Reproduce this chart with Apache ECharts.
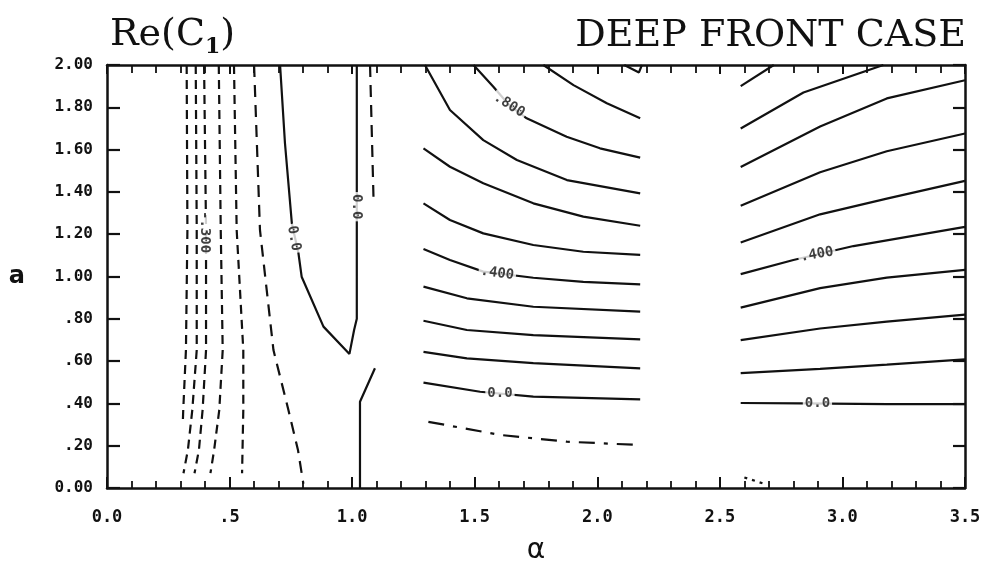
<!DOCTYPE html>
<html>
<head>
<meta charset="utf-8">
<script src="https://cdn.jsdelivr.net/npm/echarts/dist/echarts.min.js"></script>
<style>
  html, body { margin: 0; padding: 0; background: #fff; }
  #chart { width: 993px; height: 564px; }
</style>
</head>
<body>
<div id="chart"></div>
<script>
// Axis tick labels
const xTickLabels = ['0.0', '.5', '1.0', '1.5', '2.0', '2.5', '3.0', '3.5'];
const yTickLabels = ['0.00', '.20', '.40', '.60', '.80', '1.00', '1.20', '1.40', '1.60', '1.80', '2.00'];

// Negative contours at small alpha (dashed), left to right
const leftDashed = [
  [[0.325, 2.0], [0.328, 1.22], [0.322, 0.652], [0.311, 0.369], [0.309, 0.30]],
  [[0.362, 2.0], [0.366, 1.22], [0.366, 0.652], [0.348, 0.369], [0.330, 0.180], [0.312, 0.07]],
  [[0.396, 2.0], [0.404, 1.22], [0.404, 0.652], [0.390, 0.369], [0.375, 0.180], [0.357, 0.07]],
  [[0.456, 2.0], [0.464, 1.22], [0.472, 0.652], [0.458, 0.369], [0.437, 0.180], [0.422, 0.07]],
  [[0.518, 2.0], [0.529, 1.22], [0.556, 0.652], [0.556, 0.369], [0.551, 0.07]],
  [[0.600, 2.0], [0.624, 1.22], [0.679, 0.652], [0.740, 0.369], [0.779, 0.180], [0.801, 0.02]]
];

// Zero contour around alpha = 1
const zeroLoop = [[0.706, 2.0], [0.726, 1.63], [0.754, 1.252], [0.781, 1.11], [0.794, 0.999],
  [0.883, 0.763], [0.989, 0.634], [1.008, 0.747], [1.019, 0.80], [1.019, 2.0]];
const zeroLower = [[1.032, 0.0], [1.032, 0.408], [1.093, 0.566]];
const nearOneDashed = [[1.073, 2.0], [1.087, 1.377]];

// Contours for 1.3 < alpha < 2.2, levels 0.9 down to 0.0
const midSolid = [
  [[1.780, 2.0], [1.903, 1.905], [2.039, 1.819], [2.175, 1.748]],
  [[1.495, 2.0], [1.576, 1.897], [1.641, 1.810], [1.712, 1.748], [1.875, 1.661], [2.011, 1.606], [2.175, 1.562]],
  [[1.297, 2.0], [1.399, 1.787], [1.535, 1.645], [1.672, 1.551], [1.876, 1.456], [2.175, 1.393]],
  [[1.291, 1.606], [1.399, 1.519], [1.535, 1.441], [1.739, 1.346], [1.943, 1.283], [2.175, 1.240]],
  [[1.291, 1.346], [1.399, 1.267], [1.535, 1.204], [1.739, 1.149], [1.943, 1.117], [2.175, 1.102]],
  [[1.291, 1.130], [1.399, 1.078], [1.535, 1.023], [1.739, 0.994], [1.943, 0.975], [2.175, 0.963]],
  [[1.291, 0.952], [1.468, 0.897], [1.739, 0.857], [2.175, 0.834]],
  [[1.291, 0.791], [1.468, 0.747], [1.739, 0.723], [2.175, 0.703]],
  [[1.291, 0.644], [1.468, 0.613], [1.739, 0.590], [2.175, 0.566]],
  [[1.291, 0.498], [1.522, 0.455], [1.739, 0.432], [2.175, 0.419]],
  [[2.110, 2.0], [2.170, 1.965], [2.182, 2.0]]
];
const midDashed = [[1.311, 0.313], [1.603, 0.251], [1.876, 0.219], [2.175, 0.203]];

// Contours for alpha > 2.6, levels 0.9 down to 0.0
const rightSolid = [
  [[2.585, 1.900], [2.720, 2.0]],
  [[2.585, 1.700], [2.841, 1.870], [3.167, 2.0]],
  [[2.585, 1.518], [2.909, 1.709], [3.181, 1.842], [3.5, 1.928]],
  [[2.585, 1.335], [2.909, 1.493], [3.181, 1.592], [3.5, 1.676]],
  [[2.585, 1.161], [2.909, 1.294], [3.181, 1.368], [3.5, 1.452]],
  [[2.585, 1.011], [2.800, 1.078], [3.045, 1.144], [3.5, 1.235]],
  [[2.585, 0.853], [2.909, 0.945], [3.181, 0.995], [3.5, 1.031]],
  [[2.585, 0.699], [2.909, 0.754], [3.181, 0.787], [3.5, 0.820]],
  [[2.585, 0.543], [2.909, 0.563], [3.181, 0.583], [3.5, 0.608]],
  [[2.585, 0.402], [2.827, 0.400], [3.181, 0.397], [3.5, 0.397]]
];
const rightDashed = [[2.60, 0.05], [2.68, 0.02]];

// Contour labels: [alpha, a, text, rotation]
const contourLabels = [
  [0.400, 1.21, '-.300', -90],
  [0.762, 1.18, '0.0', -80],
  [1.019, 1.33, '0.0', -90],
  [1.641, 1.810, '.800', -32],
  [1.592, 1.015, '.400', -8],
  [1.603, 0.448, '0.0', 0],
  [2.896, 1.104, '.400', 10],
  [2.898, 0.398, '0.0', 0]
];

const INK = '#111';

function contour(points, dash) {
  return {
    type: 'line',
    data: points,
    showSymbol: false,
    symbol: 'none',
    silent: true,
    animation: false,
    clip: true,
    z: 3,
    lineStyle: { color: INK, width: 2.2, type: dash || 'solid', cap: 'butt' }
  };
}

const series = [];
leftDashed.forEach((ln, i) => series.push(contour(ln, i === 5 ? [12, 8] : [9, 6])));
series.push(contour(zeroLoop));
series.push(contour(zeroLower));
series.push(contour(nearOneDashed, [12, 8]));
midSolid.forEach(ln => series.push(contour(ln)));
series.push(contour(midDashed, [16, 9, 4, 9]));
rightSolid.forEach(ln => series.push(contour(ln)));
series.push(contour(rightDashed, [3, 5]));

series.push({
  type: 'scatter',
  symbolSize: 0,
  silent: true,
  animation: false,
  z: 5,
  data: contourLabels.map(d => ({
    value: [d[0], d[1]],
    name: d[2],
    label: { rotate: d[3] }
  })),
  label: {
    show: true,
    position: 'inside',
    formatter: '{b}',
    fontFamily: 'DejaVu Sans Mono',
    fontWeight: 'bold',
    fontSize: 14,
    color: '#111',
    backgroundColor: '#fff',
    padding: [0, 2]
  }
});

const monoTick = { fontFamily: 'DejaVu Sans Mono', fontWeight: 'bold', fontSize: 16, color: INK };
const frameLine = { show: true, onZero: false, lineStyle: { color: INK, width: 2.5 } };

const chart = echarts.init(document.getElementById('chart'), null, { renderer: 'canvas' });
chart.setOption({
  animation: false,
  backgroundColor: '#fff',
  title: [
    {
      text: '{a|Re(C}{s|1}{a|)}',
      left: 105,
      top: 7,
      textStyle: {
        fontWeight: 'normal',
        rich: {
          a: { fontFamily: 'DejaVu Serif', fontWeight: 'normal', fontSize: 38, color: INK, lineHeight: 46 },
          s: { fontFamily: 'DejaVu Serif', fontWeight: 'bold', fontSize: 22, color: INK, lineHeight: 20, verticalAlign: 'bottom' }
        }
      }
    },
    {
      text: 'DEEP FRONT CASE',
      right: 22,
      top: 12,
      textStyle: { fontFamily: 'DejaVu Serif', fontSize: 38, fontWeight: 'normal', color: INK }
    }
  ],
  grid: { left: 107, right: 28, top: 65, bottom: 76, containLabel: false, outerBoundsMode: 'none' },
  xAxis: [
    {
      type: 'value', position: 'bottom', min: 0, max: 3.5, interval: 0.5,
      axisLine: frameLine,
      axisTick: { show: true, inside: true, length: 11, lineStyle: { color: INK, width: 2 } },
      minorTick: { show: true, splitNumber: 5, length: 7, lineStyle: { color: INK, width: 1.8 } },
      splitLine: { show: false },
      axisLabel: {
        margin: 21, ...monoTick, fontSize: 17,
        formatter: v => xTickLabels[Math.round(v / 0.5)]
      },
      name: 'α', nameLocation: 'middle', nameGap: 49,
      nameTextStyle: { fontFamily: 'DejaVu Sans', fontSize: 28, color: INK }
    },
    {
      type: 'value', position: 'top', min: 0, max: 3.5, interval: 0.5,
      axisLine: frameLine,
      axisTick: { show: true, inside: true, length: 9, lineStyle: { color: INK, width: 2 } },
      minorTick: { show: true, splitNumber: 5, length: 8, lineStyle: { color: INK, width: 1.8 } },
      splitLine: { show: false },
      axisLabel: { show: false }
    }
  ],
  yAxis: [
    {
      type: 'value', position: 'left', min: 0, max: 2, interval: 0.2,
      axisLine: frameLine,
      axisTick: { show: true, inside: true, length: 13, lineStyle: { color: INK, width: 2.2 } },
      splitLine: { show: false },
      axisLabel: {
        margin: 14, ...monoTick, padding: [8, 0, 0, 0],
        formatter: v => yTickLabels[Math.round(v / 0.2)]
      },
      name: 'a', nameLocation: 'middle', nameGap: 82, nameRotate: 0,
      nameTextStyle: { fontFamily: 'DejaVu Sans', fontWeight: 'bold', fontSize: 24, color: INK, padding: [8, 0, 0, 0] }
    },
    {
      type: 'value', position: 'right', min: 0, max: 2, interval: 0.2,
      axisLine: frameLine,
      axisTick: { show: true, inside: true, length: 12, lineStyle: { color: INK, width: 2.2 } },
      splitLine: { show: false },
      axisLabel: { show: false }
    }
  ],
  series: series
});
</script>
</body>
</html>
